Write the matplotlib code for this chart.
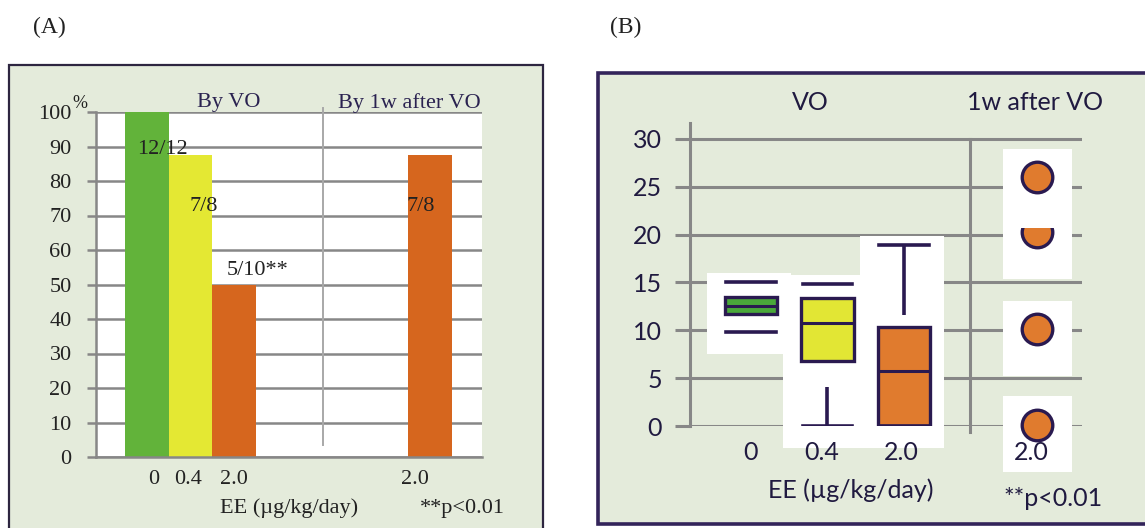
import matplotlib.pyplot as plt
from matplotlib.patches import Rectangle

# ---- panel (A): % of animals with vaginal opening ----
dose_labels_a = ['0', '0.4', '2.0', '2.0']
pct_by_vo = [100, 87.5, 50]
pct_after_vo = [87.5]
count_labels_vo = ['12/12', '7/8', '5/10**']
count_labels_after = ['7/8']
yticks_a = list(range(0, 101, 10))

# ---- panel (B): age at VO box plots + 1w after points ----
dose_labels_b = ['0', '0.4', '2.0', '2.0']
box_low = [9.8, 0.0, 0.0]
box_q1 = [11.7, 6.8, 0.0]
box_med = [12.5, 10.8, 5.8]
box_q3 = [13.5, 13.4, 10.3]
box_high = [15.0, 14.8, 18.9]
# whisker pieces that are visible in the figure
whisker_parts = [[], [(0.0, 4.1)], [(11.6, 18.9)]]
after_points = [26.0, 20.3, 10.1, 0.1]
yticks_b = list(range(0, 31, 5))

W, H = 1145, 528
BG = '#e4ebdb'
FRAME = '#33245a'
GRID = '#878787'
GREEN_A, YELLOW_A, ORANGE_A = '#62b33a', '#e4e833', '#d6661e'
GREEN_B, YELLOW_B, ORANGE_B = '#4aa83a', '#e2e634', '#e07b2e'
EDGE = '#2a1a50'
INK_B = '#201a40'


def fx(x):
    return x / W


def fy(y):
    return 1 - y / H


fig = plt.figure(figsize=(W / 100, H / 100), dpi=100)
fig.patch.set_facecolor('white')

# frames (behind the axes)
fig.patches.append(Rectangle((fx(9), fy(540)), fx(534), 475 / H, transform=fig.transFigure,
                             facecolor=BG, edgecolor='#2d2540', lw=1.6, zorder=-1))
fig.patches.append(Rectangle((fx(598), fy(524)), fx(560), 451 / H, transform=fig.transFigure,
                             facecolor=BG, edgecolor=FRAME, lw=2.6, zorder=-1))

serif = 'Liberation Serif'
sans = 'Lato'
FA = 16
FB = 18

# ================= (A) =================
axA = fig.add_axes([fx(96), fy(457), fx(386), 345 / H])
axA.set_facecolor('white')
axA.set_xlim(-1.172, 7.70)
axA.set_ylim(0, 100)
axA.set_axisbelow(True)
axA.yaxis.grid(True, color=GRID, lw=1.8)
for s in ['top', 'right']:
    axA.spines[s].set_visible(False)
axA.spines['left'].set_color(GRID)
axA.spines['left'].set_lw(1.8)
axA.spines['bottom'].set_color(GRID)
axA.spines['bottom'].set_lw(1.8)

pos_vo = [0, 1, 2]
pos_after = [6.5]
axA.bar(pos_vo, pct_by_vo, width=1.0, color=[GREEN_A, YELLOW_A, ORANGE_A], zorder=2)
axA.bar(pos_after, pct_after_vo, width=1.0, color=ORANGE_A, zorder=2)
axA.plot([4.05, 4.05], [3.5, 101.2], color='#a8a8a8', lw=1.4, clip_on=False, zorder=1)

axA.set_yticks(yticks_a)
axA.set_yticklabels([str(t) for t in yticks_a], fontfamily=serif, fontsize=FA, color='#222222')
axA.tick_params(axis='y', length=6.5, width=1.8, color=GRID, pad=11)
axA.set_xticks([0.16, 0.94, 2.0, 6.15])
axA.set_xticklabels(dose_labels_a, fontfamily=serif, fontsize=FA, color='#222222')
axA.tick_params(axis='x', length=0, pad=9)

lab_offsets = [(0.35, -11), (0.31, -15), (0.55, 4)]
for p, v, t, (dx, dy) in zip(pos_vo, pct_by_vo, count_labels_vo, lab_offsets):
    axA.text(p + dx, v + dy, t, ha='center', va='center', fontfamily=serif, fontsize=FA,
             color='#222222', zorder=3)
for p, v, t in zip(pos_after, pct_after_vo, count_labels_after):
    axA.text(p - 0.2, v - 15, t, ha='center', va='center', fontfamily=serif, fontsize=FA,
             color='#222222', zorder=3)

fig.text(fx(80), fy(103), '%', ha='center', va='center', fontfamily=serif, fontsize=13, color='#222222')
fig.text(fx(229), fy(103), 'By VO', ha='center', va='center', fontfamily=serif, fontsize=FA, color='#2a2250')
fig.text(fx(409), fy(103), 'By 1w after VO', ha='center', va='center', fontfamily=serif, fontsize=FA,
         color='#2a2250')
fig.text(fx(289), fy(508), 'EE (µg/kg/day)', ha='center', va='center', fontfamily=serif, fontsize=FA,
         color='#222222')
fig.text(fx(462), fy(508), '**p<0.01', ha='center', va='center', fontfamily=serif, fontsize=FA,
         color='#222222')
fig.text(fx(49), fy(27), '(A)', ha='center', va='center', fontfamily=serif, fontsize=17, color='#222222')
fig.text(fx(626), fy(27), '(B)', ha='center', va='center', fontfamily=serif, fontsize=17, color='#222222')

# ================= (B) =================
axB = fig.add_axes([fx(690), fy(426), fx(392), 303 / H])
axB.patch.set_alpha(0)
axB.set_xlim(0.2026, 5.327)
axB.set_ylim(0, 31.67)
for s in ['top', 'right', 'bottom']:
    axB.spines[s].set_visible(False)
axB.spines['left'].set_color(GRID)
axB.spines['left'].set_lw(2.2)
for t in yticks_b:
    axB.axhline(t, color=GRID, lw=2.2, zorder=0.5)
axB.plot([3.86, 3.86], [-0.6, 30], color=GRID, lw=2.2, clip_on=False, zorder=0.5)

box_pos = [1, 2, 3]
after_pos = 4.74
# white pasted-image backgrounds behind each group
for p, lo, hi in zip(box_pos, box_low, box_high):
    axB.add_patch(Rectangle((p - 0.58, lo - 2.3), 1.1, hi - lo + 3.3, facecolor='white',
                            edgecolor='none', zorder=1, clip_on=False))
for v in after_points:
    axB.add_patch(Rectangle((after_pos - 0.45, v - 4.9), 0.9, 7.9, facecolor='white',
                            edgecolor='none', zorder=1, clip_on=False))

stats = []
for lo, q1, med, q3, hi in zip(box_low, box_q1, box_med, box_q3, box_high):
    stats.append(dict(whislo=lo, q1=q1, med=med, q3=q3, whishi=hi, fliers=[]))
bp = axB.bxp(stats, positions=box_pos, widths=0.68, capwidths=0.65, patch_artist=True,
             showfliers=False,
             boxprops=dict(edgecolor=EDGE, lw=2.4),
             medianprops=dict(color=EDGE, lw=2.2),
             whiskerprops=dict(lw=0),
             capprops=dict(color=EDGE, lw=2.6),
             manage_ticks=False, zorder=3)
for patch, c in zip(bp['boxes'], [GREEN_B, YELLOW_B, ORANGE_B]):
    patch.set_facecolor(c)
for p, parts in zip(box_pos, whisker_parts):
    for y0, y1 in parts:
        axB.vlines(p, y0, y1, color=EDGE, lw=2.6, zorder=3)

for i, v in enumerate(after_points):
    ln, = axB.plot([after_pos], [v], 'o', ms=22, mfc=ORANGE_B, mec=EDGE, mew=2.4,
                   clip_on=False, zorder=4)
    if i == 1:
        ln.set_clip_on(True)
        ln.set_clip_path(Rectangle((after_pos - 1, 0), 2, 20.7, transform=axB.transData))

axB.set_yticks(yticks_b)
axB.set_yticklabels([str(t) for t in yticks_b], fontfamily=sans, fontsize=FB, color=INK_B)
axB.tick_params(axis='y', length=11, width=2.2, color=GRID, pad=9)
axB.set_xticks([1.0, 1.92, 2.96, 4.66])
axB.set_xticklabels(dose_labels_b, fontfamily=sans, fontsize=FB, color=INK_B)
axB.tick_params(axis='x', length=0, pad=11)
for lab in axB.get_xticklabels():
    lab.set_zorder(5)

fig.text(fx(810), fy(103), 'VO', ha='center', va='center', fontfamily=sans, fontsize=FB, color=INK_B)
fig.text(fx(1035), fy(103), '1w after VO', ha='center', va='center', fontfamily=sans, fontsize=FB,
         color=INK_B)
fig.text(fx(851), fy(490), 'EE (µg/kg/day)', ha='center', va='center', fontfamily=sans, fontsize=FB,
         color=INK_B)
fig.text(fx(1053), fy(498), '**p<0.01', ha='center', va='center', fontfamily=sans, fontsize=FB,
         color=INK_B)

fig.savefig('out.png', dpi=100)
